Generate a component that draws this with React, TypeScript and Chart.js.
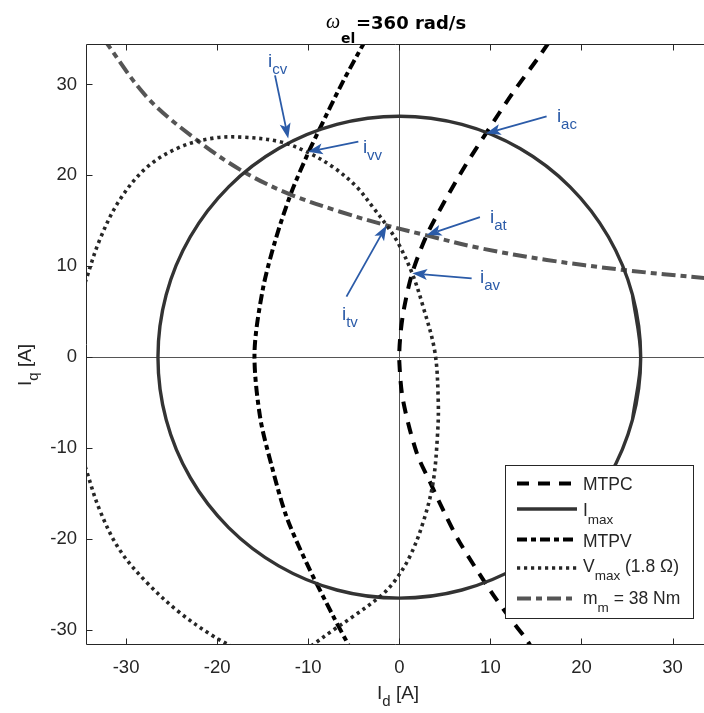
import React, { useEffect, useRef } from "react";
import { Chart, registerables } from "chart.js";

Chart.register(...registerables);

type P = [number, number];

// ---------- data (Id, Iq in A) ----------
const X_TICKS = [-30, -20, -10, 0, 10, 20, 30];
const Y_TICKS = [-30, -20, -10, 0, 10, 20, 30];
const X_RANGE: P = [-34.4, 33.45];
const Y_RANGE: P = [-31.65, 34.45];

const MTPC: P[] = [
  [16.4, 34.6], [15.3, 33.0], [12.4, 29.0], [9.5, 24.6], [7.2, 21.0], [5.0, 17.2],
  [3.0, 13.4], [1.4, 9.2], [0.45, 5.0], [0.08, 2.0], [0.0, -0.5], [0.4, -4.7],
  [1.9, -10.5], [3.4, -13.8], [5.0, -17.2], [6.65, -20.4], [9.95, -25.6], [12.0, -28.5],
  [14.0, -31.1], [14.5, -31.9],
];

const I_MAX: P[] = [
  [25.6, -6.86], [26.5, 0], [25.6, 6.86], [22.95, 13.25], [18.74, 18.74], [13.25, 22.95],
  [6.86, 25.6], [0, 26.5], [-6.86, 25.6], [-13.25, 22.95], [-18.74, 18.74], [-22.95, 13.25],
  [-25.6, 6.86], [-26.5, 0], [-25.6, -6.86], [-22.95, -13.25], [-18.74, -18.74], [-13.25, -22.95],
  [-6.86, -25.6], [0, -26.5], [6.86, -25.6], [13.25, -22.95], [18.74, -18.74], [22.95, -13.25],
  [25.6, -6.86], [26.5, 0], [25.6, 6.86],
];

const MTPV: P[] = [
  [-3.7, 34.9], [-6.3, 30.1], [-8.8, 25.0], [-9.95, 22.6], [-11.9, 18.0], [-13.6, 12.9],
  [-15.0, 7.4], [-15.9, 0.5], [-15.3, -6.5], [-14.0, -12.0], [-12.4, -17.5], [-10.2, -22.6],
  [-7.25, -28.5], [-5.5, -31.8],
];

const V_MAX_MAIN: P[] = [
  [-34.5, 8.2], [-32.9, 12.9], [-30.7, 17.3], [-27.7, 20.9], [-24.1, 23.1], [-20.4, 24.1],
  [-17.1, 24.2], [-13.1, 23.7], [-10.2, 22.6], [-7.25, 20.9], [-4.7, 18.75], [-2.9, 16.5],
  [-1.4, 14.5], [-0.1, 12.5], [1.42, 9.2], [2.6, 5.6], [3.9, 0.6], [4.27, -4.7],
  [4.2, -8.4], [3.7, -13.8], [2.6, -18.2], [1.16, -21.9], [-0.5, -24.6], [-2.1, -26.3],
  [-5.06, -28.5], [-7.25, -30.0], [-9.6, -31.7],
];

const V_MAX_LOW: P[] = [
  [-34.5, -12.0], [-32.9, -16.8], [-30.7, -21.2], [-27.7, -24.8], [-24.1, -28.1],
  [-20.4, -30.7], [-18.4, -31.8],
];

const TORQUE: P[] = [
  [-32.6, 35.2], [-27.7, 28.6], [-22.25, 23.9], [-17.1, 20.4], [-12.2, 18.0], [-6.5, 16.0],
  [-1.4, 14.5], [3.0, 13.4], [8.85, 12.0], [16.2, 10.7], [24.6, 9.6], [33.5, 8.7],
];

// annotations: subscript, label anchor ("i" left/baseline), arrow start, arrow tip
const ANN_SUBS = ["cv", "vv", "tv", "at", "av", "ac"];
const ANN_LABEL: P[] = [[-14.42, 31.9], [-4.0, 22.45], [-6.3, 4.1], [9.95, 14.76], [8.85, 8.16], [17.3, 25.9]];
const ANN_FROM: P[] = [[-13.65, 31.0], [-4.5, 23.7], [-5.8, 6.66], [8.85, 15.4], [7.94, 8.68], [16.17, 26.5]];
const ANN_TO: P[] = [[-12.2, 24.07], [-10.05, 22.6], [-1.4, 14.5], [3.0, 13.44], [1.42, 9.23], [9.5, 24.6]];

const LEGEND_MAIN = ["MTPC", "I", "MTPV", "V", "m"];
const LEGEND_SUB = ["", "max", "", "max", "m"];
const LEGEND_REST = ["", "", "", " (1.8 \u03A9)", " = 38 Nm"];

// ---------- styles ----------
const SANS = '"Liberation Sans", Arial, Helvetica, sans-serif';
const BLUE = "#2B5BA8";
const AXIS = "#262626";

const STYLES = [
  { color: "#000000", width: 4, dash: [12, 9] },
  { color: "#333333", width: 3.4, dash: [] as number[] },
  { color: "#000000", width: 4, dash: [10, 4, 5, 4] },
  { color: "#262626", width: 3.6, dash: [3.2, 3.8] },
  { color: "#555555", width: 4, dash: [14, 5, 6, 5] },
];

function subText(ctx: CanvasRenderingContext2D, x: number, y: number, main: string, sub: string,
  rest: string, mainFont: string, subFont: string, dy: number) {
  ctx.font = mainFont;
  ctx.fillText(main, x, y);
  let w = ctx.measureText(main).width;
  if (sub) {
    ctx.font = subFont;
    ctx.fillText(sub, x + w, y + dy);
    w += ctx.measureText(sub).width;
  }
  if (rest) {
    ctx.font = mainFont;
    ctx.fillText(rest, x + w, y);
    w += ctx.measureText(rest).width;
  }
  return w;
}

const overlay = {
  id: "overlay",
  beforeDatasetsDraw(chart: any) {
    const { ctx, chartArea: a, scales } = chart;
    const xs = scales.x, ys = scales.y;
    ctx.save();
    ctx.strokeStyle = "#555555";
    ctx.lineWidth = 1;
    const x0 = Math.round(xs.getPixelForValue(0)) + 0.5;
    const y0 = Math.round(ys.getPixelForValue(0)) + 0.5;
    ctx.beginPath();
    ctx.moveTo(x0, a.top); ctx.lineTo(x0, a.bottom);
    ctx.moveTo(a.left, y0); ctx.lineTo(a.right, y0);
    ctx.stroke();
    ctx.restore();
  },
  afterDatasetsDraw(chart: any) {
    const { ctx, chartArea: a, scales } = chart;
    const xs = scales.x, ys = scales.y;
    const px = (v: number) => xs.getPixelForValue(v);
    const py = (v: number) => ys.getPixelForValue(v);
    ctx.save();

    // box (left, bottom, top) and inward ticks
    ctx.strokeStyle = AXIS;
    ctx.lineWidth = 1;
    const L = Math.round(a.left) + 0.5, B = Math.round(a.bottom) - 0.5, T = Math.round(a.top) + 0.5;
    ctx.beginPath();
    ctx.moveTo(L, T); ctx.lineTo(a.right, T);
    ctx.moveTo(L, T); ctx.lineTo(L, B);
    ctx.moveTo(L, B); ctx.lineTo(a.right, B);
    X_TICKS.forEach((v) => {
      const x = Math.round(px(v)) + 0.5;
      ctx.moveTo(x, B); ctx.lineTo(x, B - 6);
      ctx.moveTo(x, T); ctx.lineTo(x, T + 6);
    });
    Y_TICKS.forEach((v) => {
      const y = Math.round(py(v)) + 0.5;
      ctx.moveTo(L, y); ctx.lineTo(L + 6, y);
    });
    ctx.stroke();

    // annotations
    ctx.strokeStyle = BLUE;
    ctx.fillStyle = BLUE;
    ANN_SUBS.forEach((s, i) => {
      const x1 = px(ANN_FROM[i][0]), y1 = py(ANN_FROM[i][1]);
      const x2 = px(ANN_TO[i][0]), y2 = py(ANN_TO[i][1]);
      const ang = Math.atan2(y2 - y1, x2 - x1);
      const c = Math.cos(ang), sn = Math.sin(ang);
      const HL = 15, HW = 5.5, NOTCH = 3.5;
      ctx.lineWidth = 1.8;
      ctx.beginPath();
      ctx.moveTo(x1, y1);
      ctx.lineTo(x2 - (HL - NOTCH) * c, y2 - (HL - NOTCH) * sn);
      ctx.stroke();
      const bx = x2 - HL * c, by = y2 - HL * sn;
      ctx.beginPath();
      ctx.moveTo(x2, y2);
      ctx.lineTo(bx - HW * sn, by + HW * c);
      ctx.lineTo(x2 - (HL - NOTCH) * c, y2 - (HL - NOTCH) * sn);
      ctx.lineTo(bx + HW * sn, by - HW * c);
      ctx.closePath();
      ctx.fill();
      ctx.textAlign = "left";
      ctx.textBaseline = "alphabetic";
      subText(ctx, px(ANN_LABEL[i][0]), py(ANN_LABEL[i][1]), "i", s, "", `19px ${SANS}`, `15px ${SANS}`, 7);
    });

    // legend
    const lx = 505, ly = 465, lw = 188, lh = 153;
    ctx.fillStyle = "#ffffff";
    ctx.fillRect(lx, ly, lw, lh);
    ctx.strokeStyle = AXIS;
    ctx.lineWidth = 1;
    ctx.strokeRect(lx + 0.5, ly + 0.5, lw, lh);
    const rowLine = [483.5, 509, 539.5, 568, 598.5];
    const rowBase = [489.5, 515.5, 546.5, 572, 603.5];
    LEGEND_MAIN.forEach((m, i) => {
      const st = STYLES[i];
      ctx.strokeStyle = st.color;
      ctx.lineWidth = st.width;
      ctx.setLineDash(st.dash);
      ctx.lineCap = "butt";
      ctx.beginPath();
      ctx.moveTo(517, rowLine[i]);
      ctx.lineTo(577, rowLine[i]);
      ctx.stroke();
      ctx.setLineDash([]);
      ctx.fillStyle = AXIS;
      ctx.textAlign = "left";
      ctx.textBaseline = "alphabetic";
      subText(ctx, 583, rowBase[i], m, LEGEND_SUB[i], LEGEND_REST[i], `17.5px ${SANS}`, `13.5px ${SANS}`, 8);
    });
    ctx.restore();
  },
  afterDraw(chart: any) {
    const { ctx } = chart;
    ctx.save();
    ctx.fillStyle = "#000000";
    ctx.textAlign = "left";
    ctx.textBaseline = "alphabetic";
    // title
    ctx.font = 'italic 20px "Liberation Serif", serif';
    ctx.fillText("\u03C9", 326, 28);
    ctx.font = 'bold 14px "DejaVu Sans", sans-serif';
    ctx.fillText("el", 341, 43);
    ctx.font = 'bold 18px "DejaVu Sans", sans-serif';
    ctx.fillText("=360 rad/s", 356, 28.5);

    // axis titles
    ctx.fillStyle = AXIS;
    subText(ctx, 377, 699, "I", "d", " [A]", `19px ${SANS}`, `15px ${SANS}`, 7);
    ctx.translate(31, 386);
    ctx.rotate(-Math.PI / 2);
    subText(ctx, 0, 0, "I", "q", " [A]", `19px ${SANS}`, `15px ${SANS}`, 7);
    ctx.restore();
  },
};

export default function App() {
  const ref = useRef<HTMLCanvasElement>(null);
  useEffect(() => {
    const canvas = ref.current;
    if (!canvas) return;
    const toXY = (arr: P[]) => arr.map(([x, y]) => ({ x, y }));
    const ds = (label: string, arr: P[], i: number, tension = 0.35) => ({
      label,
      data: toXY(arr),
      showLine: true,
      borderColor: STYLES[i].color,
      backgroundColor: STYLES[i].color,
      borderWidth: STYLES[i].width,
      borderDash: STYLES[i].dash,
      borderCapStyle: "butt",
      pointRadius: 0,
      pointHoverRadius: 0,
      tension,
      clip: 0,
      fill: false,
    });
    const tickFont = { family: SANS, size: 18.5 };
    const chart = new Chart(canvas, {
      type: "scatter",
      data: {
        datasets: [
          ds("V_max low", V_MAX_LOW, 3),
          ds("V_max", V_MAX_MAIN, 3),
          ds("I_max", I_MAX, 1),
          ds("m_m", TORQUE, 4),
          ds("MTPV", MTPV, 2, 0.3),
          ds("MTPC", MTPC, 0, 0.3),
        ] as any,
      },
      options: {
        responsive: false,
        animation: false,
        devicePixelRatio: 1,
        layout: { padding: { top: 44, left: 0, right: 0, bottom: 0 } },
        elements: { line: { capBezierPoints: false } as any },
        plugins: { legend: { display: false }, tooltip: { enabled: false }, title: { display: false } },
        events: [],
        scales: {
          x: {
            type: "linear",
            min: X_RANGE[0],
            max: X_RANGE[1],
            grid: { display: false, drawTicks: false },
            border: { display: false },
            afterBuildTicks: (s: any) => { s.ticks = X_TICKS.map((v) => ({ value: v })); },
            afterFit: (s: any) => { s.height = 68; s.paddingLeft = 0; s.paddingRight = 0; },
            ticks: { font: tickFont, color: AXIS, padding: 12, maxRotation: 0, autoSkip: false },
          },
          y: {
            type: "linear",
            min: Y_RANGE[0],
            max: Y_RANGE[1],
            grid: { display: false, drawTicks: false },
            border: { display: false },
            afterBuildTicks: (s: any) => { s.ticks = Y_TICKS.map((v) => ({ value: v })); },
            afterFit: (s: any) => { s.width = 86; s.paddingTop = 0; s.paddingBottom = 0; },
            ticks: { font: tickFont, color: AXIS, padding: 9, autoSkip: false },
          },
        },
      } as any,
      plugins: [overlay],
    });
    return () => chart.destroy();
  }, []);
  return (
    <div style={{ position: "fixed", left: 0, top: 0, width: 704, height: 713, background: "#fff" }}>
      <canvas ref={ref} width={704} height={713} style={{ display: "block" }} />
    </div>
  );
}
